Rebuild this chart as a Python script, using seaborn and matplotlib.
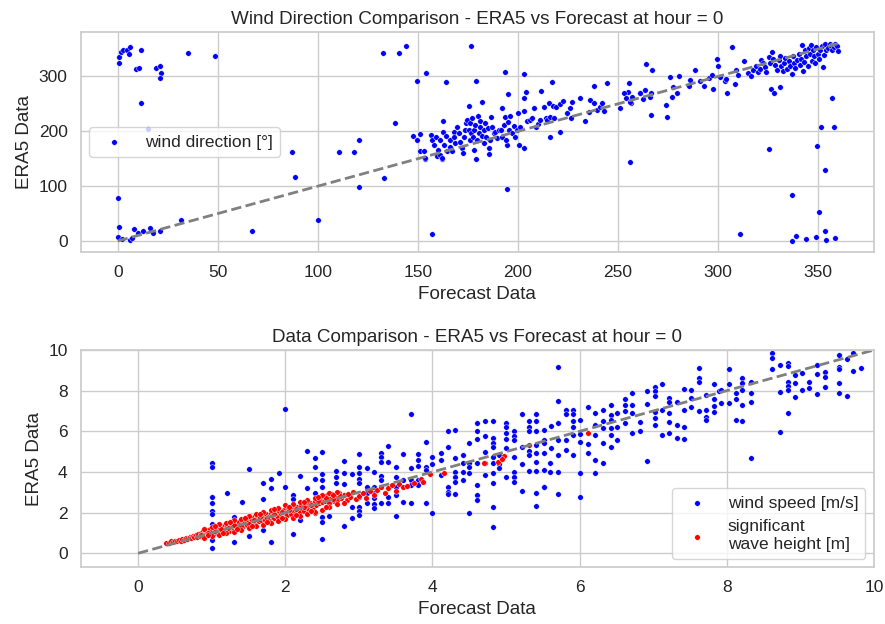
import matplotlib
matplotlib.use("Agg")
import matplotlib.pyplot as plt
import pandas as pd
import seaborn as sns

# ---------------------------------------------------------------------------
# Wind direction (forecast, ERA5) in degrees
# ---------------------------------------------------------------------------
wind_dir_points = [
    (0.6, 336), (0.6, 324), (1.5, 345), (2.5, 349), (4.5, 349), (6.2, 353), (5.8, 341),
    (11.7, 349), (9, 313), (10.8, 315), (11.7, 252), (19, 315), (21.3, 319), (21.5, 307),
    (21.3, 297), (35, 343), (48.8, 338), (0.3, 79), (0.6, 26), (0, 7), (2, 3), (6, 2),
    (7, 6), (8, 22), (10, 15), (12.8, 18), (16, 23), (17.5, 15), (21.3, 19), (31.6, 38),
    (15, 205), (67, 19), (87.3, 162), (88.8, 116), (100.3, 38), (110.6, 162), (118, 162),
    (120.8, 185), (120.8, 99), (132.5, 343), (133.2, 114), (138.6, 215), (140.5, 343),
    (144, 355), (149.5, 292), (154, 307), (164, 290), (157, 13.5),
    (176.5, 356), (179.3, 292.5), (193.7, 309), (203.3, 305), (195.3, 268), (175.5, 246),
    (182.3, 253), (192, 242), (204, 271), (203.3, 260), (211.8, 274), (217.2, 290),
    (162.6, 219), (194.8, 94), (194.8, 175), (203.3, 169), (200.5, 175), (179.3, 150),
    (185.5, 158), (162, 150), (153.5, 150), (159.8, 155), (216, 190), (221, 198),
    (233.3, 219), (238, 282), (244.5, 288), (255.5, 288), (255.8, 144), (255, 271),
    (260.8, 270),
    (147.5, 191.5), (149.5, 184), (151.2, 195), (150.9, 164.8), (153.2, 164.8), (153.7, 150.7),
    (156.5, 193.4), (157, 184), (157.9, 175), (159.2, 190.3), (159.9, 166), (160.9, 156.8),
    (162, 150.7), (161.2, 184), (162.5, 199.4), (162.9, 175), (164.2, 191.5), (164.5, 164.8),
    (165.9, 172), (166.2, 184), (167, 164.8), (167.9, 199.4), (168.2, 190.3), (168.7, 178),
    (169.5, 208.6), (170.4, 196.4), (171.2, 181.2), (172, 169), (172.5, 159.9), (172.9, 190.3),
    (173.7, 202.5), (174.2, 214.7), (174.5, 220.8), (175.4, 202.5), (175.9, 184.2), (176.2, 214.7),
    (176.5, 196.4), (177, 223.8), (177.5, 190.3), (177.9, 166), (178.2, 202.5), (178.7, 211.6),
    (179.5, 184.2), (179.9, 228), (180.4, 196.4), (181.2, 208.6), (181.2, 219.5), (182, 191.5),
    (182.9, 202.5), (183.2, 178.1), (183.7, 214.7), (184.2, 190.3), (184.9, 205.5), (185.5, 169),
    (185.9, 184.2), (186.5, 225.6), (187, 208.6), (187.9, 196.4), (188.7, 199.4), (189.5, 187.3),
    (190.4, 202.5), (191.5, 202.5), (192, 190.3), (192.9, 211.6), (193.7, 225.6), (194.2, 184.2),
    (194.9, 217.7), (195.4, 202.5), (196.2, 228), (197, 196.4), (197.9, 209.8), (198.7, 190.3),
    (199.5, 202.5), (199.9, 234.2), (200.9, 208.6), (203.2, 237.8), (204.5, 219.5), (206.2, 220.8),
    (207, 223.8), (207.9, 242), (209.2, 208.6), (209.9, 213.5), (210.9, 220.8), (212.9, 245.1),
    (213.9, 223.8), (214.5, 220.8), (215.4, 252.4), (216.2, 225.6), (217.5, 246.3), (218.2, 223.8),
    (219.2, 245.1), (220.9, 250), (222.5, 256.1), (224.5, 232.9), (225.9, 242), (226.5, 223.8),
    (227, 254.3), (231.2, 260.4), (235.4, 236), (236.2, 257.3), (238.2, 252.4), (239.5, 239),
    (241.2, 245.1), (242, 252.4), (243.2, 237.8), (250.9, 242), (253.2, 270.7), (254.2, 260.4),
    (256.5, 252.4),
    (256.2, 254.3), (257, 263.4), (261.2, 269.5), (262.5, 258.5), (263.7, 275.6), (265.9, 263.4),
    (266.5, 270.7), (267, 310.9), (264.2, 321.9), (266.5, 229.9), (274.2, 248.2), (274.5, 225.6),
    (276.2, 298.7), (277, 263.4), (277.5, 280.5), (279.5, 269.5), (280.4, 299.9), (285.4, 281.7),
    (285.9, 293.8), (288.7, 310.9), (291.2, 290.8), (293.2, 282.9), (295.4, 296.9), (297, 303),
    (297.5, 276.8), (299.5, 331.6), (299.9, 319.4), (300.9, 298.7), (303.7, 290.8), (304.5, 270.7),
    (304.2, 295.1), (307, 353.5), (308.7, 286.6), (309.2, 312.1), (309.9, 303), (312.9, 327.3),
    (314.9, 306), (316.5, 299.9), (317.5, 310.9), (319.2, 318.2), (320, 307.2), (321.2, 313.3),
    (321.5, 329.2), (322.5, 324.3), (323.7, 317), (324.2, 307.2), (325.4, 335.3), (325.9, 324.3),
    (326.5, 276.8), (327, 343.8), (327.5, 331.6), (328.2, 270.7), (328.7, 321.2), (329.5, 312.1),
    (330.4, 329.2), (330.9, 337.7), (331.2, 280.5), (331.5, 318.2), (332.5, 309.1), (333.2, 324.3),
    (333.7, 333.4), (334.5, 313.3), (335.4, 327.3), (336.2, 319.4), (337, 304.8), (337.5, 336.5),
    (338.2, 324.3), (338.7, 315.2), (339.5, 330.4), (340.4, 341.3), (340.9, 321.2), (341.5, 331.6),
    (342, 357.8), (342.5, 309.1), (342.9, 325.5), (343.7, 347.4), (344.2, 336.5), (344.9, 318.2),
    (345.4, 351.7), (346.2, 341.3), (346.5, 357.8), (347, 327.3), (347.5, 347.4), (348.2, 336.5),
    (348.7, 324.3), (349.2, 353.5), (349.9, 341.3), (350.4, 331.6), (351.2, 348.6), (352, 356),
    (352.5, 317), (352.9, 339.5), (353.7, 359.6), (354.2, 347.4), (354.9, 351.7), (355.9, 360),
    (356.5, 356), (357, 347.4), (357.9, 353.5), (358.7, 360), (359.5, 354.7), (359.9, 345.6),
    (357, 260.4), (351.5, 208.6), (357.9, 208.6), (325.4, 167.2), (349.5, 173.3), (353.4, 129.4),
    (336.9, 83.1), (350.5, 53.3), (311.2, 12.5), (336.9, 0), (339, 9.4), (344.2, 3.3),
    (348.9, 7.6), (353.7, 17.9), (354.2, 1.5), (358.7, 5.8),
]

# ---------------------------------------------------------------------------
# Wind speed (forecast, ERA5) in m/s
# ---------------------------------------------------------------------------
wind_speed_points = [
    (1.0, 4.42), (1.0, 4.26), (1.0, 2.79), (1.0, 2.46), (1.0, 2.1), (1.0, 1.93), (1.0, 1.45),
    (1.0, 0.98), (1.0, 0.65), (1.0, 0.24), (1.21, 2.98), (1.3, 1.80), (1.3, 0.57), (1.41, 2.52),
    (1.4, 1.30), (1.5, 4.13), (1.5, 0.87), (1.6, 1.9), (1.7, 3.44), (1.7, 2.65), (1.7, 1.15),
    (1.8, 3.64), (1.8, 3.2), (1.8, 0.57), (1.91, 3.97), (2.0, 7.11), (2.0, 3.28), (2.0, 2.1),
    (2.11, 2.85), (2.11, 2.65), (2.11, 0.93), (2.2, 3.8), (2.2, 1.64), (2.3, 5.05), (2.3, 3.23),
    (2.4, 4.69), (2.4, 4.23), (2.4, 3.64), (2.4, 2.98), (2.4, 1.97), (2.5, 4.98), (2.5, 3.9),
    (2.5, 3.6), (2.5, 3.28), (2.5, 1.8), (2.5, 1.56), (2.5, 0.69), (2.6, 1.84), (2.69, 4.06),
    (2.69, 3.74), (2.69, 3.44), (2.8, 4.54), (2.8, 3.93), (2.8, 3.41), (2.8, 1.34), (2.9, 3.9),
    (2.9, 1.72), (2.9, 2.29), (3.0, 4.88),
    (3.0, 4.26), (3.0, 3.93), (3.0, 3.64), (3.0, 3.44), (3.0, 2.79), (3.0, 2.29), (3.0, 2.1),
    (3.0, 1.88), (3.11, 4.18), (3.11, 3.28), (3.11, 2.98), (3.11, 2.46), (3.21, 4.02),
    (3.21, 3.28), (3.21, 2.98), (3.21, 2.70), (3.21, 2.42), (3.21, 2.21), (3.3, 4.92), (3.3, 4.72),
    (3.3, 4.51), (3.3, 3.8), (3.3, 3.6), (3.3, 2.49), (3.4, 5.28), (3.4, 4.51), (3.4, 2.79),
    (3.4, 2.46), (3.51, 4.26), (3.51, 3.77), (3.51, 3.28), (3.51, 2.87), (3.51, 1.83),
    (3.6, 4.88), (3.6, 3.6), (3.6, 2.54), (3.71, 6.85), (3.71, 4.18), (3.71, 3.6), (3.71, 3.36),
    (3.71, 2.46), (3.81, 4.88), (3.81, 4.59), (3.81, 4.29), (3.81, 3.6), (3.81, 3.36),
    (3.91, 5.49), (3.91, 4.26), (3.91, 4.1), (3.91, 2.49), (4.0, 4.72), (4.0, 4.39), (4.0, 2.0),
    (4.11, 4.92), (4.11, 4.59), (4.11, 3.85), (4.21, 6.03), (4.21, 5.21), (4.21, 3.28),
    (4.21, 3.03), (4.21, 2.92), (4.3, 6.06), (4.3, 4.67), (4.3, 4.02), (4.3, 3.77), (4.3, 3.52),
    (4.3, 2.92), (4.41, 4.84), (4.41, 4.46), (4.41, 4.02), (4.41, 3.6), (4.5, 5.44), (4.5, 4.46),
    (4.5, 4.26), (4.5, 3.93), (4.5, 2.0), (4.61, 6.39), (4.61, 6.03), (4.61, 5.6), (4.61, 4.43),
    (4.61, 3.36), (4.61, 2.87), (4.61, 2.62), (4.71, 6.52), (4.71, 5.77), (4.71, 5.0),
    (4.71, 4.46), (4.71, 3.85), (4.82, 6.52), (4.82, 5.65), (4.82, 5.41), (4.82, 5.24),
    (4.82, 4.75), (4.82, 4.43), (4.82, 3.97), (4.82, 3.44), (4.82, 2.29), (4.82, 1.31),
    (4.9, 4.84), (4.9, 4.39), (4.9, 4.18), (5.0, 6.39), (5.0, 6.2), (5.0, 5.9), (5.0, 5.6),
    (5.0, 5.16), (5.0, 3.77), (5.11, 6.03), (5.11, 5.77), (5.11, 5.57), (5.11, 4.72),
    (5.11, 4.02), (5.11, 3.77), (5.11, 3.52), (5.21, 6.85), (5.21, 5.24), (5.21, 4.39),
    (5.21, 3.08), (5.31, 6.52), (5.31, 6.23), (5.31, 6.03), (5.31, 5.05), (5.31, 4.84),
    (5.31, 4.06), (5.4, 6.85), (5.4, 6.52), (5.4, 6.03), (5.4, 5.33), (5.4, 4.92), (5.4, 4.51),
    (5.4, 4.06), (5.4, 2.98), (5.4, 2.33), (5.51, 6.06), (5.51, 5.57), (5.51, 4.92),
    (5.51, 3.25), (5.6, 4.43), (5.6, 4.02),
    (5.71, 9.15), (5.71, 7.5), (5.71, 6.39), (5.71, 5.57), (5.71, 4.84), (5.71, 4.02),
    (5.71, 2.92), (5.52, 5.44), (5.52, 4.1), (5.52, 3.28), (5.61, 6.26), (5.61, 5.16),
    (5.81, 7.05), (5.81, 6.85), (5.81, 5.57), (5.81, 5.08), (5.91, 7.05), (5.91, 6.85),
    (5.91, 6.52), (5.91, 6.2), (5.91, 5.82), (5.91, 4.84), (6.01, 6.56), (6.01, 5.87),
    (6.01, 5.49), (6.01, 3.93), (6.01, 2.78), (6.11, 7.18), (6.11, 5.38), (6.11, 4.92),
    (6.21, 6.92), (6.21, 6.31), (6.21, 5.82), (6.21, 4.59), (6.21, 3.97), (6.32, 7.05),
    (6.32, 6.52), (6.32, 6.15), (6.32, 5.44), (6.32, 4.46), (6.42, 7.29), (6.42, 6.8),
    (6.42, 6.56), (6.42, 6.15), (6.42, 5.82), (6.42, 5.21), (6.51, 6.92), (6.51, 6.23),
    (6.51, 5.57), (6.61, 7.57), (6.61, 7.29), (6.61, 7.01), (6.61, 6.39), (6.71, 7.87),
    (6.71, 7.29), (6.71, 6.92), (6.71, 5.9), (6.82, 6.47), (6.82, 6.03), (6.92, 8.0),
    (6.92, 7.34), (6.92, 4.56), (7.02, 8.16), (7.02, 8.0), (7.02, 7.74), (7.02, 6.97),
    (7.02, 6.64), (7.02, 6.31), (7.12, 8.33), (7.12, 7.05), (7.12, 5.82), (7.21, 7.62),
    (7.21, 7.46), (7.21, 6.88), (7.21, 6.47), (7.21, 5.93), (7.32, 7.46), (7.32, 6.31),
    (7.32, 5.65), (7.42, 8.07), (7.42, 7.05), (7.42, 6.2), (7.42, 5.6), (7.51, 8.03),
    (7.51, 7.62), (7.51, 7.21), (7.62, 9.1), (7.62, 8.6), (7.62, 8.44), (7.62, 7.01),
    (7.71, 7.79), (7.71, 7.05), (7.71, 6.72), (7.71, 6.56), (7.83, 8.33), (7.83, 7.57),
    (7.83, 7.25), (7.83, 6.97), (7.9, 8.0),
    (7.92, 8.03), (7.92, 7.41), (8.03, 9.05), (8.03, 8.33), (8.03, 7.41), (8.12, 7.9),
    (8.12, 7.57), (8.12, 6.56), (8.21, 8.6), (8.21, 8.39), (8.21, 8.03), (8.21, 7.29),
    (8.21, 6.52), (8.33, 8.44), (8.33, 7.9), (8.33, 7.46), (8.33, 4.67), (8.62, 9.87),
    (8.62, 9.59), (8.62, 9.05), (8.72, 9.26), (8.72, 7.95), (8.72, 5.98), (8.83, 9.38),
    (8.83, 9.21), (8.83, 8.44), (8.83, 8.23), (8.83, 8.03), (8.83, 6.88), (8.92, 8.77),
    (8.92, 8.36), (8.92, 7.67), (9.02, 8.85), (9.02, 8.03), (9.12, 8.44), (9.12, 8.11),
    (9.22, 9.26), (9.22, 8.82), (9.22, 7.84), (9.33, 8.93), (9.33, 8.65), (9.33, 8.2),
    (9.52, 9.75), (9.52, 9.18), (9.52, 9.05), (9.52, 8.39), (9.52, 7.9), (9.63, 9.54),
    (9.63, 7.74), (9.72, 9.87), (9.72, 8.98), (9.82, 9.1),
]

# ---------------------------------------------------------------------------
# Significant wave height (forecast, ERA5) in m
# ---------------------------------------------------------------------------
wave_height_points = [
    (0.38, 0.50), (0.42, 0.52), (0.45, 0.58), (0.48, 0.55), (0.50, 0.62), (0.53, 0.58),
    (0.55, 0.66), (0.58, 0.62), (0.60, 0.72), (0.62, 0.65), (0.65, 0.75), (0.67, 0.70),
    (0.70, 0.80), (0.72, 0.74), (0.74, 0.86), (0.76, 0.78), (0.78, 0.90), (0.80, 0.82),
    (0.82, 0.95), (0.84, 0.86), (0.85, 1.02), (0.87, 0.92), (0.88, 1.08), (0.90, 0.95),
    (0.91, 1.12), (0.93, 0.98), (0.95, 1.15), (0.96, 1.05), (0.98, 1.20), (1.00, 0.98),
    (1.01, 1.10), (1.03, 1.25), (1.04, 1.02), (1.06, 1.18), (1.08, 1.30), (1.10, 1.05),
    (1.11, 1.22), (1.13, 1.35), (1.15, 1.12), (1.16, 1.28), (1.18, 1.40), (1.20, 1.18),
    (1.21, 1.32), (1.23, 1.08), (1.25, 1.42), (1.27, 1.25), (1.28, 1.36), (1.30, 1.15),
    (1.32, 1.48), (1.33, 1.30), (1.35, 1.40), (1.37, 1.55), (1.38, 1.25), (1.40, 1.45),
    (1.42, 1.60), (1.43, 1.35), (1.45, 1.52), (1.47, 1.65), (1.48, 1.40), (1.50, 1.58),
    (1.52, 1.72), (1.54, 1.48), (1.55, 1.62), (1.57, 1.78), (1.59, 1.52), (1.60, 1.68),
    (1.62, 1.85), (1.64, 1.58), (1.65, 1.72), (1.67, 1.62), (1.69, 1.90), (1.70, 1.75),
    (1.72, 1.66), (1.74, 1.95), (1.76, 1.80), (1.78, 1.70), (1.80, 2.00), (1.82, 1.85),
    (1.84, 1.75), (1.86, 2.05), (1.88, 1.90), (1.90, 1.80), (1.92, 2.08), (1.94, 1.95),
    (1.96, 1.85), (1.98, 2.15), (2.00, 2.00), (2.02, 1.90), (2.04, 2.22), (2.06, 2.05),
    (2.08, 1.95), (2.10, 2.25), (2.12, 2.10), (2.14, 2.00), (2.16, 2.30), (2.18, 2.15),
    (2.20, 2.05), (2.22, 2.35), (2.24, 2.20), (2.26, 2.10), (2.28, 2.40), (2.30, 2.25),
    (2.32, 2.15), (2.34, 2.45), (2.36, 2.30), (2.38, 2.20), (2.40, 2.55), (2.42, 2.38),
    (2.44, 2.62), (2.46, 2.45), (2.48, 2.70), (2.50, 2.50), (2.52, 2.78), (2.54, 2.55),
    (2.56, 2.85), (2.58, 2.60), (2.60, 2.45), (2.62, 2.72), (2.64, 2.90), (2.66, 2.55),
    (2.68, 2.80), (2.70, 2.62), (2.73, 2.95), (2.76, 2.70), (2.80, 2.85), (2.84, 2.60),
    (2.88, 2.75), (2.92, 3.00), (2.96, 2.68), (3.00, 2.80), (3.05, 2.95), (3.10, 2.70),
    (3.15, 3.05), (3.20, 2.85), (3.25, 3.10), (3.30, 3.28), (3.35, 2.95), (3.40, 3.20),
    (3.45, 3.35), (3.50, 3.05), (3.55, 3.40), (3.60, 3.25), (3.65, 3.30), (3.75, 3.48),
    (3.85, 3.65), (3.87, 3.52), (3.97, 3.90), (4.16, 3.97), (4.70, 4.43), (4.89, 4.51),
    (4.97, 4.79), (4.94, 4.62), (5.31, 5.33), (6.11, 5.93),
    (0.85, 0.90), (0.95, 1.00), (1.05, 1.10), (1.12, 1.20), (1.22, 1.25), (1.30, 1.38),
    (1.40, 1.35), (1.50, 1.45), (1.58, 1.65), (1.66, 1.80), (1.75, 1.72), (1.85, 1.95),
    (1.95, 2.05), (2.05, 2.12), (2.15, 2.20), (2.25, 2.28), (2.35, 2.38), (2.45, 2.55),
    (2.55, 2.70), (2.65, 2.65), (2.75, 2.80), (2.85, 2.92),
    (0.90, 0.75), (1.00, 0.85), (1.10, 0.90), (1.20, 1.00), (1.30, 1.05), (1.40, 1.15),
    (1.50, 1.25), (1.60, 1.35), (1.70, 1.40), (1.80, 1.50), (1.90, 1.60), (2.00, 1.70),
    (2.10, 1.75), (2.20, 1.85), (2.30, 1.95), (2.40, 2.05), (2.50, 2.15), (2.60, 2.30),
    (2.70, 2.40), (2.80, 2.45),
    (0.90, 1.20), (1.00, 1.30), (1.10, 1.45), (1.20, 1.50), (1.30, 1.62), (1.40, 1.70),
    (1.50, 1.85), (1.60, 1.95), (1.70, 2.05), (1.80, 2.15), (1.90, 2.25), (2.00, 2.35),
    (2.10, 2.40), (2.20, 2.50), (2.30, 2.60), (2.40, 2.70), (2.50, 2.85), (2.60, 2.95),
    (2.70, 3.00),
    (0.95, 0.88), (1.15, 1.00), (1.35, 1.20), (1.55, 1.35), (1.75, 1.55), (1.95, 1.75),
    (2.15, 1.90), (2.35, 2.10), (2.55, 2.30), (1.05, 1.35), (1.25, 1.55), (1.45, 1.75),
    (1.65, 1.95), (1.85, 2.20), (2.05, 2.30), (2.25, 2.50), (2.45, 2.75), (2.65, 2.85),
]

dir_ref = [0, 360]
speed_ref = [0, 10]

dir_ticks_x = [0, 50, 100, 150, 200, 250, 300, 350]
dir_ticks_y = [0, 100, 200, 300]
speed_ticks = [0, 2, 4, 6, 8, 10]

df_dir = pd.DataFrame(wind_dir_points, columns=["forecast", "era5"])
df_ws = pd.DataFrame(wind_speed_points, columns=["forecast", "era5"])
df_hs = pd.DataFrame(wave_height_points, columns=["forecast", "era5"])

sns.set_theme(style="whitegrid")
plt.rcParams["font.family"] = ["Liberation Sans", "DejaVu Sans"]
plt.rcParams.update({
    "axes.titlesize": 13.6,
    "axes.labelsize": 13.6,
    "xtick.labelsize": 12.5,
    "ytick.labelsize": 12.5,
    "legend.fontsize": 12.5,
})

fig = plt.figure(figsize=(8.85, 6.24), dpi=100)
ax1 = fig.add_axes([0.0912, 0.5962, 0.8964, 0.3525])
ax2 = fig.add_axes([0.0912, 0.0909, 0.8964, 0.3482])

# Wind direction panel
sns.scatterplot(data=df_dir, x="forecast", y="era5", color="blue", s=16,
                label="wind direction [°]", ax=ax1)
ax1.plot(dir_ref, dir_ref, linestyle="--", color="gray", linewidth=2)
ax1.set_xlim(-18.5, 378)
ax1.set_ylim(-20, 381)
ax1.set_xticks(dir_ticks_x)
ax1.set_yticks(dir_ticks_y)
ax1.set_title("Wind Direction Comparison - ERA5 vs Forecast at hour = 0")
ax1.set_xlabel("Forecast Data")
ax1.set_ylabel("ERA5 Data")
ax1.legend(loc="center left")

# Wind speed / wave height panel
sns.scatterplot(data=df_ws, x="forecast", y="era5", color="blue", s=16,
                label="wind speed [m/s]", ax=ax2)
sns.scatterplot(data=df_hs, x="forecast", y="era5", color="red", s=16,
                label="significant\nwave height [m]", ax=ax2)
ax2.plot(speed_ref, speed_ref, linestyle="--", color="gray", linewidth=2)
ax2.set_xlim(-0.78, 10)
ax2.set_ylim(-0.69, 10)
ax2.set_xticks(speed_ticks)
ax2.set_yticks(speed_ticks)
ax2.set_title("Data Comparison - ERA5 vs Forecast at hour = 0")
ax2.set_xlabel("Forecast Data")
ax2.set_ylabel("ERA5 Data")
ax2.legend(loc="lower right")

fig.savefig("out.png", dpi=100)
